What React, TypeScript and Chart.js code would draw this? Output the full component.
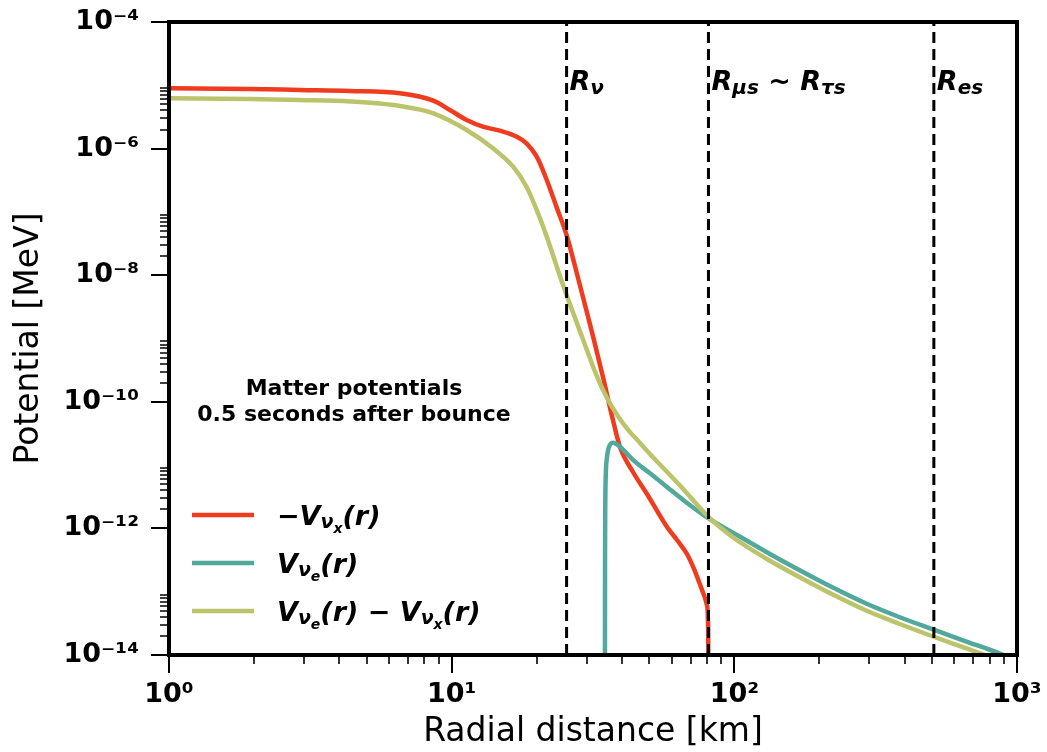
import React, { useEffect, useRef } from "react";
import { Chart, registerables } from "chart.js";

Chart.register(...registerables);

const FONT = '"DejaVu Sans", sans-serif';

// Axis ticks
const X_TICKS = [1, 10, 100, 1000];
const X_TICK_LABELS = ["10⁰", "10¹", "10²", "10³"];
const Y_TICKS = [1e-14, 1e-12, 1e-10, 1e-8, 1e-6, 1e-4];
const Y_TICK_LABELS = ["10⁻¹⁴", "10⁻¹²", "10⁻¹⁰", "10⁻⁸", "10⁻⁶", "10⁻⁴"];

// Characteristic radii [km]
const R_NU = 25.5;
const R_MUS = 81;
const R_ES = 508;

// -V_nux(r)
const RED_R = [1, 1.93, 2.91, 4.37, 6.56, 8.61, 9.86, 11.3, 12.9, 14.8, 17.0, 18.4, 20.0, 21.7, 23.5, 25.5, 27.3, 29.2, 31.6, 34.3, 37.2, 39.4, 43.8, 49.1, 57.8, 62.7, 68.0, 72.0, 75.5, 78.1, 80.0, 80.8, 81.0];
const RED_V = [8.97e-6, 8.75e-6, 8.43e-6, 8.13e-6, 7.48e-6, 5.71e-6, 4.07e-6, 2.83e-6, 2.22e-6, 1.92e-6, 1.54e-6, 1.21e-6, 7.45e-7, 3.19e-7, 1.19e-7, 4.32e-8, 1.4e-8, 4.36e-9, 1.1e-9, 2.47e-10, 5.15e-11, 1.93e-11, 7.78e-12, 3.49e-12, 1.05e-12, 6.56e-13, 3.94e-13, 2.29e-13, 1.32e-13, 8.87e-14, 6.17e-14, 2.5e-14, 1e-15];

// V_nue(r)
const TEAL_R = [34.85, 34.88, 34.95, 35.1, 35.5, 36.3, 37.3, 39.4, 43.9, 50.3, 57.6, 65.9, 80.8, 99.1, 130.3, 171, 224, 294, 385, 505, 663, 870, 944];
const TEAL_V = [1e-15, 3.16e-13, 2.51e-12, 7.08e-12, 1.41e-11, 2.09e-11, 2.26e-11, 1.95e-11, 1.2e-11, 7.41e-12, 4.56e-12, 2.81e-12, 1.45e-12, 8.51e-13, 4.21e-13, 2.16e-13, 1.15e-13, 6.44e-14, 3.95e-14, 2.53e-14, 1.63e-14, 1.05e-14, 8.9e-15];

// V_nue(r) - V_nux(r)
const GREEN_R = [1, 1.93, 2.91, 4.37, 6.56, 8.61, 11.3, 14.0, 16.5, 18.4, 20.0, 21.7, 24.2, 25.5, 29.2, 32.6, 35.3, 38.3, 41.6, 46.4, 50.3, 57.6, 65.9, 80.8, 99.1, 130.3, 171, 224, 294, 385, 505, 663, 870];
const GREEN_V = [6.24e-6, 6.08e-6, 5.86e-6, 5.55e-6, 4.71e-6, 3.61e-6, 1.97e-6, 1.01e-6, 5.18e-7, 2.5e-7, 1.07e-7, 4.06e-8, 9.46e-9, 4.86e-9, 9.46e-10, 2.56e-10, 1.19e-10, 6.41e-11, 3.85e-11, 2.23e-11, 1.5e-11, 7.92e-12, 4.19e-12, 1.53e-12, 7.18e-13, 3.29e-13, 1.68e-13, 8.93e-14, 4.99e-14, 3.09e-14, 1.96e-14, 1.27e-14, 8.1e-15];

const RED = "#f03c1e";
const TEAL = "#52a89b";
const GREEN = "#bcc46b";

const pts = (xs: number[], ys: number[]) => xs.map((x, i) => ({ x, y: ys[i] }));
const vline = (r: number) => [{ x: r, y: 1e-14 }, { x: r, y: 1e-4 }];

type Seg = { t: string; s: number; dy?: number; up?: boolean };

function drawMath(ctx: CanvasRenderingContext2D, x: number, y: number, segs: Seg[]) {
  ctx.textBaseline = "alphabetic";
  ctx.textAlign = "left";
  for (const g of segs) {
    ctx.font = `${g.up ? "" : "italic "}bold ${g.s}px ${FONT}`;
    ctx.fillText(g.t, x, y + (g.dy || 0));
    x += ctx.measureText(g.t).width;
  }
}

const zeroPad = (s: any) => {
  s.paddingTop = 0;
  s.paddingBottom = 0;
  s.paddingLeft = 0;
  s.paddingRight = 0;
};

const decor = {
  id: "decor",
  afterDatasetsDraw(chart: any) {
    const ctx: CanvasRenderingContext2D = chart.ctx;
    const ca = chart.chartArea;
    const xs = chart.scales.x;
    const ys = chart.scales.y;
    ctx.save();
    ctx.fillStyle = "#000";
    ctx.strokeStyle = "#000";

    // tick marks
    ctx.lineWidth = 2;
    const xMinor: number[] = [];
    for (const d of [1, 10, 100]) for (let k = 2; k <= 9; k++) xMinor.push(k * d);
    ctx.beginPath();
    for (const v of X_TICKS) {
      const p = Math.round(xs.getPixelForValue(v));
      ctx.moveTo(p, ca.bottom);
      ctx.lineTo(p, ca.bottom + 18);
    }
    for (const v of Y_TICKS) {
      const p = Math.round(ys.getPixelForValue(v));
      ctx.moveTo(ca.left, p);
      ctx.lineTo(ca.left - 18, p);
    }
    ctx.stroke();
    ctx.lineWidth = 1.6;
    ctx.beginPath();
    for (const v of xMinor) {
      const p = Math.round(xs.getPixelForValue(v));
      ctx.moveTo(p, ca.bottom);
      ctx.lineTo(p, ca.bottom + 9);
    }
    for (const e of [-14, -12, -10, -8, -6]) {
      for (let k = 2; k <= 9; k++) {
        const p = Math.round(ys.getPixelForValue(k * Math.pow(10, e)));
        ctx.moveTo(ca.left, p);
        ctx.lineTo(ca.left - 9, p);
      }
    }
    ctx.stroke();

    // frame
    ctx.lineWidth = 4;
    ctx.strokeRect(ca.left, ca.top, ca.right - ca.left, ca.bottom - ca.top);

    // radius labels
    const lblY = 90;
    drawMath(ctx, xs.getPixelForValue(R_NU) + 3, lblY, [
      { t: "R", s: 27 },
      { t: "ν", s: 20, dy: 4 },
    ]);
    drawMath(ctx, xs.getPixelForValue(R_MUS) + 3, lblY, [
      { t: "R", s: 27 },
      { t: "μs", s: 20, dy: 4 },
      { t: " ~ ", s: 27, up: true },
      { t: "R", s: 27 },
      { t: "τs", s: 20, dy: 4 },
    ]);
    drawMath(ctx, xs.getPixelForValue(R_ES) + 3, lblY, [
      { t: "R", s: 27 },
      { t: "es", s: 20, dy: 4 },
    ]);

    // annotation
    ctx.font = `bold 22px ${FONT}`;
    ctx.textAlign = "center";
    ctx.textBaseline = "alphabetic";
    ctx.fillText("Matter potentials", 354, 395);
    ctx.fillText("0.5 seconds after bounce", 354, 421);

    // legend
    const rows: { c: string; y: number; segs: Seg[] }[] = [
      {
        c: RED,
        y: 515,
        segs: [
          { t: "−", s: 27, up: true },
          { t: "V", s: 27 },
          { t: "ν", s: 19, dy: 3 },
          { t: "x", s: 14, dy: 8 },
          { t: "(r)", s: 27 },
        ],
      },
      {
        c: TEAL,
        y: 563,
        segs: [
          { t: "V", s: 27 },
          { t: "ν", s: 19, dy: 3 },
          { t: "e", s: 14, dy: 8 },
          { t: "(r)", s: 27 },
        ],
      },
      {
        c: GREEN,
        y: 611,
        segs: [
          { t: "V", s: 27 },
          { t: "ν", s: 19, dy: 3 },
          { t: "e", s: 14, dy: 8 },
          { t: "(r) ", s: 27 },
          { t: "−", s: 27, up: true },
          { t: " V", s: 27 },
          { t: "ν", s: 19, dy: 3 },
          { t: "x", s: 14, dy: 8 },
          { t: "(r)", s: 27 },
        ],
      },
    ];
    for (const r of rows) {
      ctx.strokeStyle = r.c;
      ctx.lineWidth = 4.5;
      ctx.beginPath();
      ctx.moveTo(192, r.y);
      ctx.lineTo(254, r.y);
      ctx.stroke();
      ctx.fillStyle = "#000";
      drawMath(ctx, 277, r.y + 10, r.segs);
    }
    ctx.restore();
  },
};

export default function App() {
  const ref = useRef<HTMLCanvasElement | null>(null);
  useEffect(() => {
    if (!ref.current) return;
    const dashed = (r: number) => ({
      data: vline(r),
      borderColor: "#000",
      borderWidth: 3,
      borderDash: [11, 6],
      pointRadius: 0,
      order: 0,
    });
    const chart = new Chart(ref.current, {
      type: "line",
      data: {
        datasets: [
          dashed(R_NU),
          dashed(R_MUS),
          dashed(R_ES),
          { data: pts(GREEN_R, GREEN_V), borderColor: GREEN, borderWidth: 4.5, pointRadius: 0, cubicInterpolationMode: "monotone", order: 1 },
          { data: pts(TEAL_R, TEAL_V), borderColor: TEAL, borderWidth: 4.5, pointRadius: 0, cubicInterpolationMode: "monotone", order: 2 },
          { data: pts(RED_R, RED_V), borderColor: RED, borderWidth: 4.5, pointRadius: 0, cubicInterpolationMode: "monotone", order: 3 },
        ] as any,
      },
      options: {
        animation: false,
        responsive: false,
        devicePixelRatio: 1,
        layout: { padding: { top: 22, right: 30, left: 0, bottom: 0 } },
        plugins: { legend: { display: false }, tooltip: { enabled: false } },
        scales: {
          x: {
            type: "logarithmic",
            min: 1,
            max: 1000,
            afterBuildTicks: (s: any) => {
              s.ticks = X_TICKS.map((v) => ({ value: v }));
            },
            afterFit: (s: any) => {
              s.height = 97;
              zeroPad(s);
            },
            grid: { display: false, drawTicks: false },
            border: { display: false },
            ticks: {
              autoSkip: false,
              maxRotation: 0,
              padding: 24,
              color: "#000",
              font: { family: FONT, size: 27, weight: "bold" },
              callback: (v: any) => {
                const i = X_TICKS.findIndex((t) => Math.abs(Math.log10(t) - Math.log10(v)) < 1e-6);
                return i >= 0 ? X_TICK_LABELS[i] : "";
              },
            },
            title: { display: true, text: "Radial distance [km]", color: "#000", font: { family: FONT, size: 33 }, padding: { top: 0, bottom: 0 } },
          },
          y: {
            type: "logarithmic",
            min: 1e-14,
            max: 1e-4,
            afterBuildTicks: (s: any) => {
              s.ticks = Y_TICKS.map((v) => ({ value: v }));
            },
            afterFit: (s: any) => {
              s.width = 169;
              zeroPad(s);
            },
            grid: { display: false, drawTicks: false },
            border: { display: false },
            ticks: {
              autoSkip: false,
              padding: 30,
              color: "#000",
              font: { family: FONT, size: 27, weight: "bold" },
              callback: (v: any) => {
                const i = Y_TICKS.findIndex((t) => Math.abs(Math.log10(t) - Math.log10(v)) < 1e-6);
                return i >= 0 ? Y_TICK_LABELS[i] : "";
              },
            },
            title: { display: true, text: "Potential [MeV]", color: "#000", font: { family: FONT, size: 33 }, padding: { top: 10, bottom: 0 } },
          },
        },
      } as any,
      plugins: [decor],
    });
    return () => chart.destroy();
  }, []);
  return (
    <div style={{ position: "fixed", left: 0, top: 0, width: 1047, height: 752, background: "#fff" }}>
      <canvas ref={ref} width={1047} height={752} style={{ display: "block" }} />
    </div>
  );
}
